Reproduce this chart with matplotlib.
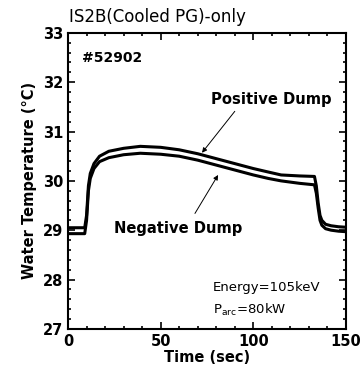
import matplotlib
matplotlib.use('Agg')
import matplotlib.pyplot as plt
from matplotlib.ticker import MultipleLocator

# time (sec) and water temperature (deg C)
t = [0, 9, 10, 11, 12, 14, 17, 22, 30, 39, 50, 60, 70, 80, 90, 100, 108, 115, 125, 133,
     134, 135, 136, 137, 139, 142, 146, 150]
positive = [29.05, 29.05, 29.3, 29.9, 30.15, 30.35, 30.5, 30.6, 30.66, 30.7, 30.68, 30.63,
            30.55, 30.45, 30.35, 30.25, 30.18, 30.12, 30.1, 30.09,
            29.9, 29.55, 29.3, 29.2, 29.12, 29.09, 29.07, 29.06]
negative = [28.93, 28.93, 29.2, 29.8, 30.05, 30.25, 30.39, 30.47, 30.53, 30.56, 30.54, 30.5,
            30.42, 30.32, 30.22, 30.12, 30.05, 30.0, 29.95, 29.92,
            29.75, 29.45, 29.2, 29.1, 29.03, 29.0, 28.98, 28.97]

fig = plt.figure(figsize=(3.6, 3.78), dpi=100)
ax = fig.add_axes([0.189, 0.130, 0.772, 0.783])

ax.plot(t, positive, color='black', lw=2.2)
ax.plot(t, negative, color='black', lw=2.2)

ax.set_xlim(0, 150)
ax.set_ylim(27, 33)
ax.xaxis.set_major_locator(MultipleLocator(50))
ax.xaxis.set_minor_locator(MultipleLocator(10))
ax.yaxis.set_major_locator(MultipleLocator(1))
ax.yaxis.set_minor_locator(MultipleLocator(0.2))
ax.tick_params(which='both', direction='in', top=True, right=True, width=1.2)
ax.tick_params(which='major', length=5, labelsize=10.5)
ax.tick_params(which='minor', length=2.5)
for lab in ax.get_xticklabels() + ax.get_yticklabels():
    lab.set_fontweight('bold')
for s in ax.spines.values():
    s.set_linewidth(1.5)

ax.set_xlabel('Time (sec)', fontsize=10.5, fontweight='bold', labelpad=1)
ax.set_ylabel('Water Temperature (\u00b0C)', fontsize=10.5, fontweight='bold', labelpad=4)
fig.text(0.193, 0.932, 'IS2B(Cooled PG)-only', fontsize=12, va='bottom', ha='left')

ax.text(7.5, 32.5, '#52902', fontsize=10, fontweight='bold', va='center')

arrow = dict(arrowstyle='-|>', color='black', lw=0.7, mutation_scale=7,
             shrinkA=0, shrinkB=0)
ax.text(109.9, 31.64, 'Positive Dump', fontsize=10.6, fontweight='bold',
        ha='center', va='center')
ax.annotate('', xy=(72.3, 30.57), xytext=(90, 31.41), arrowprops=arrow)
ax.text(59.4, 29.04, 'Negative Dump', fontsize=10.6, fontweight='bold',
        ha='center', va='center')
ax.annotate('', xy=(81, 30.12), xytext=(68.5, 29.34), arrowprops=arrow)

ax.text(78, 27.83, 'Energy=105keV', fontsize=9.5, va='center')
ax.text(78, 27.38, r'P$_{\mathregular{arc}}$=80kW', fontsize=9.5, va='center')

fig.savefig('out.png', dpi=100)
